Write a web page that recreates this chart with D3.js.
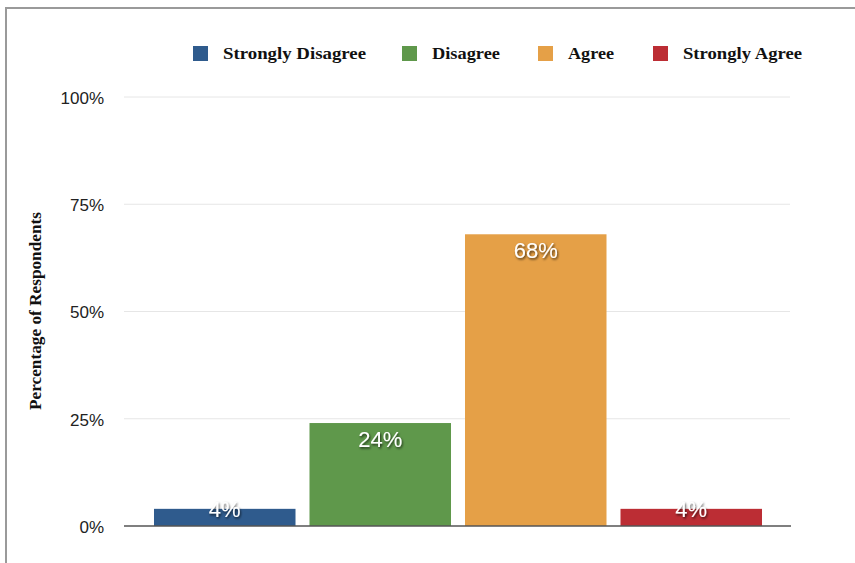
<!DOCTYPE html>
<html><head><meta charset="utf-8">
<script src="https://cdn.jsdelivr.net/npm/d3@7"></script>
<style>body{margin:0;background:#fff}svg{display:block}</style>
</head><body>
<svg id="c" width="855" height="563"></svg>
<script>
const categories = ["Strongly Disagree", "Disagree", "Agree", "Strongly Agree"];
const values = [4, 24, 68, 4];
const colors = ["#2f5b8d", "#5f984b", "#e5a047", "#bc2d34"];
const yTicks = [0, 25, 50, 75, 100];
const yTitle = "Percentage of Respondents";

const svg = d3.select("#c");
const defs = svg.append("defs");
const f = defs.append("filter").attr("id","sh").attr("x","-20%").attr("y","-20%").attr("width","140%").attr("height","160%");
f.append("feDropShadow").attr("dx",1).attr("dy",1.5).attr("stdDeviation",1).attr("flood-color","#000").attr("flood-opacity",0.7);

// frame
svg.append("path").attr("d","M6,563 V8 H855").attr("fill","none").attr("stroke","#9a9a9a").attr("stroke-width",2);

const x0 = 124, x1 = 791, yB = 526, yT = 97;
const y = d3.scaleLinear().domain([0,100]).range([yB,yT]);
const x = d3.scaleBand().domain(categories).range([147,769]).paddingInner(0.09).paddingOuter(0.045);

// grid
svg.append("g").selectAll("line").data(yTicks.filter(d=>d>0)).join("line")
  .attr("x1",x0).attr("x2",x1-1).attr("y1",d=>y(d)).attr("y2",d=>y(d))
  .attr("stroke","#e6e6e6").attr("stroke-width",1);

// y tick labels
const ax = d3.axisLeft(y).tickValues(yTicks).tickFormat(d=>d+"%").tickSize(0).tickPadding(0);
const gy = svg.append("g").attr("transform","translate(104,0)").call(ax);
gy.select(".domain").remove();
gy.selectAll("text").attr("font-family","Liberation Sans, Arial, sans-serif").attr("font-size",17).attr("fill","#222").attr("dy","0.38em");

// bars
svg.append("g").selectAll("rect").data(values).join("rect")
  .attr("x",(d,i)=>x(categories[i])).attr("width",x.bandwidth())
  .attr("y",d=>y(d)).attr("height",d=>yB-y(d))
  .attr("fill",(d,i)=>colors[i]);

// baseline
svg.append("line").attr("x1",x0).attr("x2",x1).attr("y1",yB).attr("y2",yB).attr("stroke","#555").attr("stroke-width",1.6);

// labels
svg.append("g").selectAll("text").data(values).join("text")
  .attr("x",(d,i)=>x(categories[i])+x.bandwidth()/2)
  .attr("y",d=>Math.min(y(d)+24, yB-9))
  .attr("text-anchor","middle").attr("font-family","Liberation Sans, Arial, sans-serif").attr("font-size",22)
  .attr("fill","#fff").attr("filter","url(#sh)").text(d=>d+"%");

// y title
svg.append("text").attr("transform","translate(41,311) rotate(-90)").attr("text-anchor","middle")
  .attr("font-family","Liberation Serif, Times New Roman, serif").attr("font-weight","bold").attr("font-size",17)
  .attr("textLength",198).attr("lengthAdjust","spacingAndGlyphs")
  .attr("fill","#111").text(yTitle);

// legend
const legX = [193, 402, 538, 653];
const legW = [143, 68, 46, 119];
const lg = svg.append("g").selectAll("g").data(categories).join("g").attr("transform",(d,i)=>`translate(${legX[i]},46)`);
lg.append("rect").attr("width",15).attr("height",15).attr("fill",(d,i)=>colors[i]);
lg.append("text").attr("x",30).attr("y",13).attr("font-family","Liberation Serif, Times New Roman, serif")
  .attr("font-weight","bold").attr("font-size",17).attr("fill","#111")
  .attr("textLength",(d,i)=>legW[i]).attr("lengthAdjust","spacingAndGlyphs").text(d=>d);
</script>
</body></html>
